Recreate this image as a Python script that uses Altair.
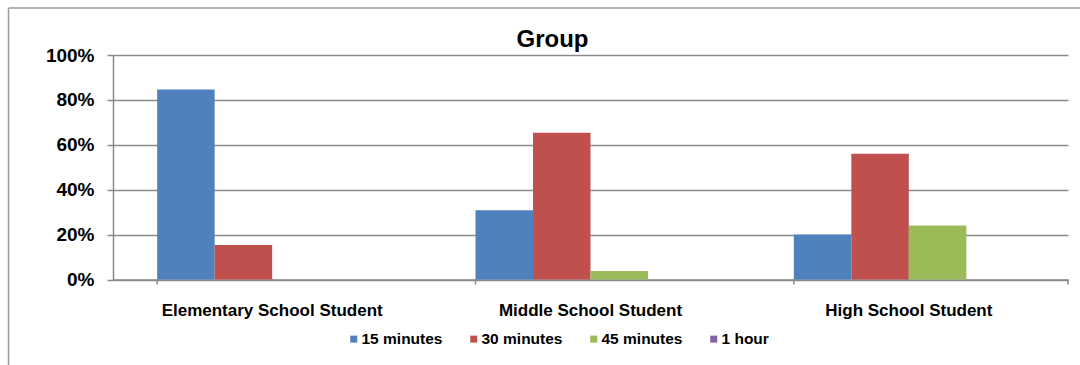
import altair as alt
import pandas as pd

# Survey shares by student group and time spent
categories = ["Elementary School Student", "Middle School Student", "High School Student"]
series = ["15 minutes", "30 minutes", "45 minutes", "1 hour"]
colors = ["#4F81BD", "#C0504D", "#9BBB59", "#8064A2"]

min15 = [0.846, 0.308, 0.20]
min30 = [0.154, 0.654, 0.56]
min45 = [0.0, 0.038, 0.24]
hour1 = [0.0, 0.0, 0.0]

y_ticks = [0, 0.2, 0.4, 0.6, 0.8, 1.0]

rows = []
for name, vals in zip(series, [min15, min30, min45, hour1]):
    for cat, v in zip(categories, vals):
        rows.append({"group": cat, "time": name, "share": v})
df = pd.DataFrame(rows)

FONT = "Liberation Sans"
GRAY = "#8a8a8a"
W, H = 955, 224.5

x_scale = alt.Scale(domain=categories, paddingInner=0.2775, paddingOuter=0.13875)

bars = alt.Chart(df).mark_bar().encode(
    x=alt.X(
        "group:N",
        scale=x_scale,
        sort=categories,
        axis=alt.Axis(
            title="",
            labelAngle=0,
            labelFont=FONT,
            labelFontSize=17,
            labelFontWeight="bold",
            labelColor="black",
            labelBaseline="alphabetic",
            labelPadding=35.5,
            labelLimit=400,
            ticks=False,
            tickSize=0,
            domainColor=GRAY,
            domainWidth=1.5,
            grid=False,
        ),
    ),
    xOffset=alt.XOffset("time:N", sort=series, scale=alt.Scale(domain=series, paddingInner=0, paddingOuter=0)),
    y=alt.Y(
        "share:Q",
        scale=alt.Scale(domain=[0, 1], nice=False),
        axis=alt.Axis(
            title="",
            values=y_ticks,
            format="%",
            labelFont=FONT,
            labelFontSize=19,
            labelFontWeight="bold",
            labelColor="black",
            labelPadding=13,
            tickSize=6,
            tickColor=GRAY,
            tickWidth=1.5,
            domainColor=GRAY,
            domainWidth=1.5,
            gridColor=GRAY,
            gridWidth=1.5,
        ),
    ),
    color=alt.Color(
        "time:N",
        sort=series,
        scale=alt.Scale(domain=series, range=colors),
        legend=alt.Legend(
            title="",
            orient="none",
            direction="horizontal",
            legendX=233,
            legendY=276,
            padding=0,
            symbolType="square",
            symbolSize=49,
            symbolStrokeWidth=0,
            labelFont=FONT,
            labelFontSize=15.5,
            labelFontWeight="bold",
            labelColor="black",
            labelOffset=0,
            columnPadding=23,
        ),
    ),
)

# Category separator ticks below the horizontal axis
cat_df = pd.DataFrame({"group": categories})
sep_ticks = alt.Chart(cat_df).mark_rule(color=GRAY, strokeWidth=1.5).encode(
    x=alt.X("group:N", sort=categories, bandPosition=0),
    y=alt.value(H),
    y2=alt.value(H + 5),
)
one = pd.DataFrame({"k": [0]})
end_tick = alt.Chart(one).mark_rule(color=GRAY, strokeWidth=1.5).encode(
    x=alt.value(W), y=alt.value(H), y2=alt.value(H + 5)
)

# Chart-area frame
frame_left = alt.Chart(one).mark_rule(color="#9a9a9a", strokeWidth=1.5).encode(
    x=alt.value(-104.5), y=alt.value(-47), y2=alt.value(H + 90)
)
frame_top = alt.Chart(one).mark_rule(color="#9a9a9a", strokeWidth=1.5).encode(
    x=alt.value(-104.5), x2=alt.value(W + 20), y=alt.value(-47)
)

title = alt.Chart(pd.DataFrame({"t": ["Group"]})).mark_text(
    font=FONT, fontSize=24, fontWeight="bold", color="black", align="center", baseline="alphabetic"
).encode(text="t:N", x=alt.value(439.5), y=alt.value(-8))

chart = alt.layer(bars, sep_ticks, end_tick, frame_left, frame_top, title).properties(
    width=W,
    height=H,
    autosize=alt.AutoSizeParams(type="none"),
    padding={"left": 113, "top": 55, "right": 12, "bottom": 85.5},
    background="white",
).configure_view(stroke="transparent")

chart.save("out.html", embed_options={"renderer": "svg", "actions": False})
